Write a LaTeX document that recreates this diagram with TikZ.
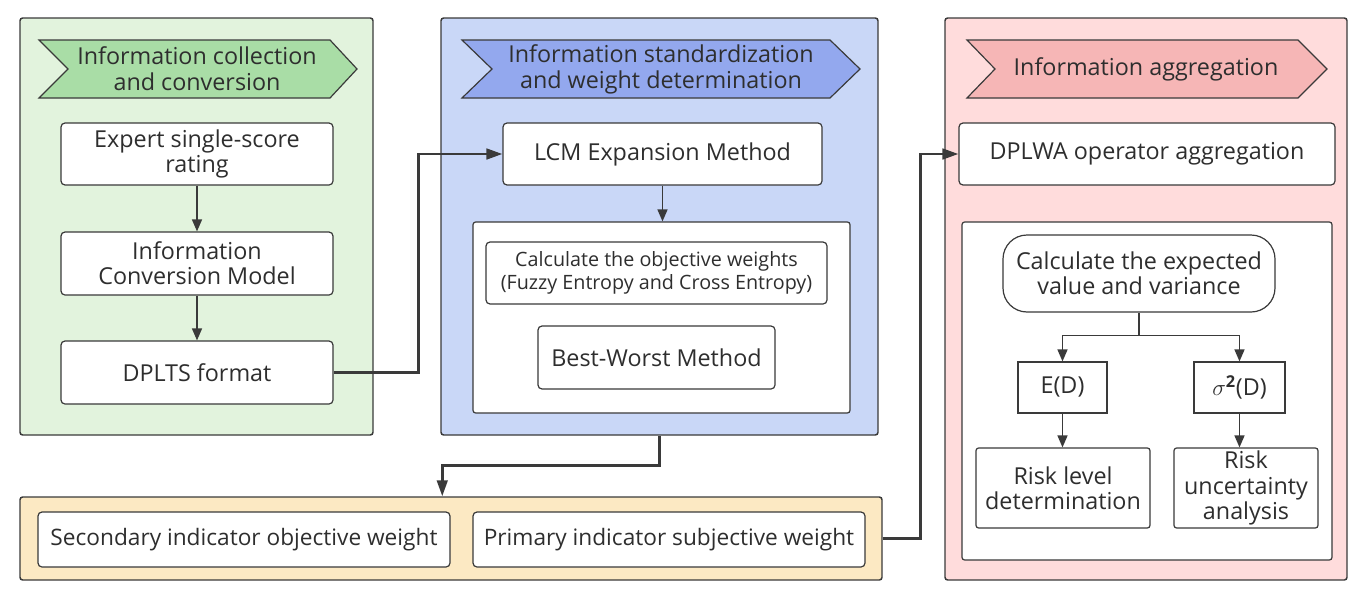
\documentclass[tikz,border=0pt]{standalone}
\usepackage{fontspec}
\setmainfont{Open Sans}
\usetikzlibrary{arrows.meta,fit,calc}
\definecolor{linecol}{HTML}{3A3A3A}
\definecolor{txtcol}{HTML}{2E2E2E}
\definecolor{gfill}{HTML}{E2F3DD}
\definecolor{ghead}{HTML}{A9DDA6}
\definecolor{bfill}{HTML}{C9D7F7}
\definecolor{bhead}{HTML}{93A8EE}
\definecolor{pfill}{HTML}{FFDCDC}
\definecolor{phead}{HTML}{F6B6B6}
\definecolor{yfill}{HTML}{FCE9C3}
\begin{document}
\begin{tikzpicture}[x=0.75pt,y=-0.75pt,
  panel/.style={draw=linecol, line width=1.1pt, rounded corners=2pt, inner sep=0pt},
  box/.style={draw=linecol, fill=white, line width=0.9pt, rounded corners=3pt, inner sep=0pt,
    align=center, text=txtcol, font=\fontsize{17.5}{19}\selectfont},
  sz/.style 2 args={minimum width=#1*0.75pt, minimum height=#2*0.75pt},
  hdr/.style={draw=linecol, line width=0.9pt},
  hdrtxt/.style={align=center, text=txtcol, inner sep=0pt, font=\fontsize{17.5}{19.5}\selectfont},
  arr/.style={draw=linecol, line width=1.1pt, -{Triangle[length=9pt,width=7.5pt]}},
  thk/.style={draw=linecol, line width=2pt, -{Triangle[length=12pt,width=8pt]}}]
\useasboundingbox (0,0) rectangle (1361,600);

% panels
\node[panel, fill=gfill, fit={(20,18) (373,435)}] (green) {};
\node[panel, fill=bfill, fit={(441,18) (878,435)}] (blue) {};
\node[panel, fill=pfill, fit={(945,18) (1347,580)}] (pink) {};
\node[panel, fill=yfill, fit={(20,497) (882,580)}] (yellow) {};

% headers
\draw[hdr, fill=ghead] (39,40) -- (330,40) -- (357,69) -- (330,98) -- (39,98) -- (68,69) -- cycle;
\node[hdrtxt] (ghdr) at (197,69) {Information collection\\and conversion};
\draw[hdr, fill=bhead] (462,40) -- (830,40) -- (860,69) -- (830,98) -- (462,98) -- (492,69) -- cycle;
\node[hdrtxt] (bhdr) at (661,69) {Information standardization\\and weight determination};
\draw[hdr, fill=phead] (967,40) -- (1298,40) -- (1327,69) -- (1298,98) -- (967,98) -- (995,69) -- cycle;
\node[hdrtxt] (phdr) at (1146,69) {Information aggregation};

% green panel boxes
\node[box, sz={272}{62}] (expert) at (197,154) {Expert single-score\\rating};
\node[box, sz={272}{63}] (conv) at (197,263.5) {Information\\Conversion Model};
\node[box, sz={272}{63}] (dplts) at (197,372.5) {DPLTS format};
\draw[arr] (expert.south) -- (conv.north);
\draw[arr] (conv.south) -- (dplts.north);

% blue panel boxes
\node[box, sz={319}{62}] (lcm) at (662.5,154) {LCM Expansion Method};
\node[box, rounded corners=2pt, sz={377}{191}] (binner) at (661.5,317.5) {};
\node[box, font=\fontsize{14.8}{17.5}\selectfont, sz={341}{62}] (objw) at (656.5,273) {Calculate the objective weights\\(Fuzzy Entropy and Cross Entropy)};
\node[box, sz={237}{63}] (bwm) at (656.5,357.5) {Best-Worst Method};
\draw[arr] (lcm.south) -- (lcm.south |- binner.north);

% yellow panel boxes
\node[box, font=\fontsize{17}{19}\selectfont, sz={412}{55}] (sec) at (244,539.5) {Secondary indicator objective weight};
\node[box, font=\fontsize{17}{19}\selectfont, sz={392}{55}] (prim) at (669,539.5) {Primary indicator subjective weight};

% pink panel boxes
\node[box, sz={376}{62}] (dplwa) at (1147,154) {DPLWA operator aggregation};
\node[box, rounded corners=2pt, sz={370}{338}] (pinner) at (1147,391) {};
\node[box, rounded corners=18pt, sz={272}{77}] (calc) at (1139,273.5) {Calculate the expected\\value and variance};
\node[box, rounded corners=0pt, sz={89}{51}] (ed) at (1062.5,387.5) {E(D)};
\node[box, rounded corners=0pt, sz={91}{51}] (sd) at (1239.5,387.5) {$\sigma^{\mathbf{2}}$(D)};
\node[box, rounded corners=2pt, sz={174}{80}] (rl) at (1063,488) {Risk level\\determination};
\node[box, rounded corners=2pt, sz={144}{80}] (ru) at (1246,488) {Risk\\uncertainty\\analysis};
\draw[draw=linecol, line width=1.1pt] (calc.south) -- ++(0,23) coordinate (split);
\draw[arr] (split) -| (ed.north);
\draw[arr] (split) -| (sd.north);
\draw[arr] (ed.south) -- (ed.south |- rl.north);
\draw[arr] (sd.south) -- (sd.south |- ru.north);

% main connectors
\draw[thk] (dplts.east) -- ++(85,0) |- (lcm.west);
\coordinate (yin) at ($(yellow.north west)+(423,0)$);
\draw[thk] (blue.south) -- ++(0,30) -| (yin);
\draw[thk] (yellow.east) -- ++(38,0) |- (dplwa.west);
\end{tikzpicture}
\end{document}
